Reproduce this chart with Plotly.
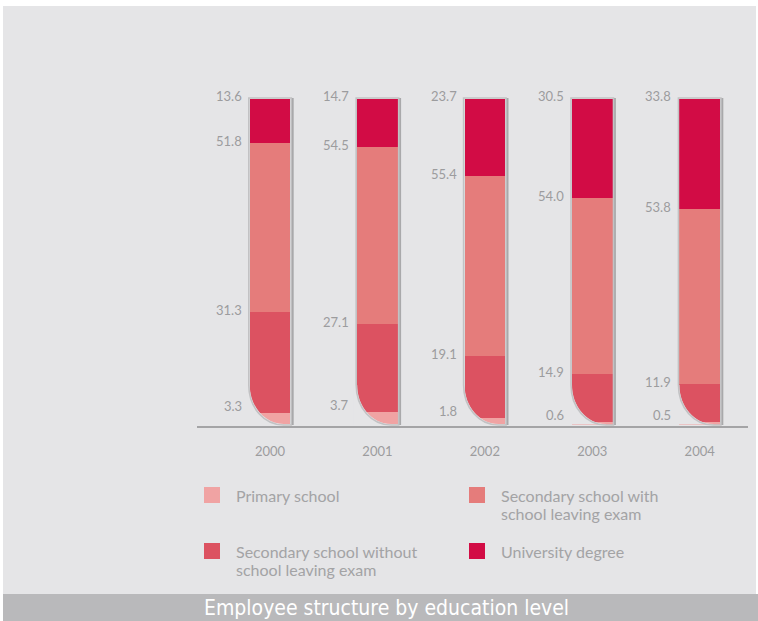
import plotly.graph_objects as go

# --- data -------------------------------------------------------------
years = ["2000", "2001", "2002", "2003", "2004"]
primary_school = [3.3, 3.7, 1.8, 0.6, 0.5]
secondary_without_exam = [31.3, 27.1, 19.1, 14.9, 11.9]
secondary_with_exam = [51.8, 54.5, 55.4, 54.0, 53.8]
university_degree = [13.6, 14.7, 23.7, 30.5, 33.8]

series_values = [primary_school, secondary_without_exam, secondary_with_exam, university_degree]
series_names = [
    "Primary school",
    "Secondary school without<br>school leaving exam",
    "Secondary school with<br>school leaving exam",
    "University degree",
]
series_colors = ["#f0a3a3", "#dc5261", "#e57c7b", "#d20c45"]

chart_title = "Employee structure by education level"

# --- page geometry ----------------------------------------------------
W, H = 758, 621
ML, MR, MT, MB = 197, 10, 97, 195
PW, PH = W - ML - MR, H - MT - MB
X_RANGE = [-0.68, 4.45]
Y_RANGE = [-0.6, 100.6]
px_per_x = PW / (X_RANGE[1] - X_RANGE[0])
px_per_y = PH / (Y_RANGE[1] - Y_RANGE[0])

BG = "#e5e5e7"
TEXT_GREY = "#a3a3a5"
LABEL_GREY = "#9c9c9e"
BAR_PX = 40.5
CORNER_RX = 34.0
CORNER_RY = 39.0


def fx(px):
    return (px - ML) / PW


def fy(py):
    return (H - MB - py) / PH


fig = go.Figure()

for vals, name, color in zip(series_values, series_names, series_colors):
    fig.add_trace(go.Bar(
        x=years, y=vals, name=name.replace("<br>", " "),
        marker=dict(color=color, line=dict(width=0)),
        width=BAR_PX / px_per_x, showlegend=False,
        hoverinfo="x+y+name",
    ))

shapes = []
annotations = []

# page background with thin white frame, and the caption band
shapes.append(dict(type="rect", xref="paper", yref="paper", layer="below",
                   x0=fx(3), x1=fx(756), y0=fy(6), y1=fy(594),
                   fillcolor=BG, line=dict(width=0)))
shapes.append(dict(type="rect", xref="paper", yref="paper", layer="below",
                   x0=fx(3), x1=fx(W), y0=fy(594), y1=fy(H),
                   fillcolor="#b9b9bb", line=dict(width=0)))
annotations.append(dict(xref="paper", yref="paper", x=fx(386), y=fy(607.5),
                        xanchor="center", yanchor="middle", showarrow=False,
                        text=chart_title,
                        font=dict(family="Liberation Sans Narrow, DejaVu Sans Condensed, sans-serif",
                                  size=21, color="white")))

# tube outline with a rounded lower-left corner
hw = BAR_PX / 2
k = 0.5523
r_y = CORNER_RY / px_per_y
cx = -hw + CORNER_RX
for i in range(len(years)):
    mask = (f"M {-hw - 4},{r_y} L {-hw},{r_y} "
            f"C {-hw},{r_y * (1 - k)} {cx - k * CORNER_RX},0 {cx},0 "
            f"L {cx},-0.15 L {-hw - 4},-0.15 Z")
    shapes.append(dict(type="path", xref="x", yref="y", xsizemode="pixel", xanchor=i,
                       path=mask, fillcolor=BG, line=dict(width=0), layer="above"))
    o = 1.0
    oy = o / px_per_y
    outline = (f"M {-hw - o},{100 + oy} L {-hw - o},{r_y} "
               f"C {-hw - o},{r_y * (1 - k) - oy} {cx - k * CORNER_RX - o},{-oy} {cx},{-oy} "
               f"L {hw + o},{-oy} L {hw + o},{100 + oy} Z")
    shapes.append(dict(type="path", xref="x", yref="y", xsizemode="pixel", xanchor=i,
                       path=outline, line=dict(color="#c2c2c4", width=1.6), layer="above"))
    shapes.append(dict(type="path", xref="x", yref="y", xsizemode="pixel", xanchor=i,
                       path=f"M {hw + 2.5},{100 + oy} L {hw + 2.5},{-oy}",
                       line=dict(color="#a9a9ab", width=1.8), layer="above"))

# value labels at the top edge of each segment
for i in range(len(years)):
    top = 0.0
    for s, vals in enumerate(series_values):
        top += vals[i]
        annotations.append(dict(
            x=i, y=top, xref="x", yref="y", xanchor="right", yanchor="middle",
            xshift=-(hw + 6), yshift=3 if s == len(series_values) - 1 else (7 if s == 0 else 2),
            text=f"{vals[i]:.1f}", showarrow=False,
            font=dict(family="Lato, Open Sans, sans-serif", size=13, color=LABEL_GREY)))

# legend: two columns, ordered row by row; each text line placed on an 18 px pitch
legend_order = [0, 2, 1, 3]
legend_pos = [(204, 487), (469, 487), (204, 543), (469, 543)]
for idx, (lx, ly) in zip(legend_order, legend_pos):
    shapes.append(dict(type="rect", xref="paper", yref="paper",
                       x0=fx(lx), x1=fx(lx + 16), y0=fy(ly), y1=fy(ly + 16),
                       fillcolor=series_colors[idx], line=dict(width=0)))
    for n, line in enumerate(series_names[idx].split("<br>")):
        annotations.append(dict(xref="paper", yref="paper", x=fx(lx + 30), y=fy(ly + 8.5 + 18 * n),
                                xanchor="left", yanchor="middle", align="left", showarrow=False,
                                text=line,
                                font=dict(family="Lato, Open Sans, sans-serif", size=16, color=TEXT_GREY)))

fig.update_layout(
    width=W, height=H,
    margin=dict(l=ML, r=MR, t=MT, b=MB, pad=0),
    paper_bgcolor="white", plot_bgcolor="rgba(0,0,0,0)",
    barmode="stack", bargap=0,
    shapes=shapes, annotations=annotations,
    xaxis=dict(type="category", range=X_RANGE, showgrid=False, zeroline=False,
               showline=True, linecolor="#a4a4a6", linewidth=1.5,
               ticks="outside", ticklen=13, tickcolor="rgba(0,0,0,0)",
               tickfont=dict(family="Lato, Open Sans, sans-serif", size=13, color=LABEL_GREY),
               fixedrange=True),
    yaxis=dict(range=Y_RANGE, visible=False, fixedrange=True),
    showlegend=False,
)

fig.write_html("out.html")
